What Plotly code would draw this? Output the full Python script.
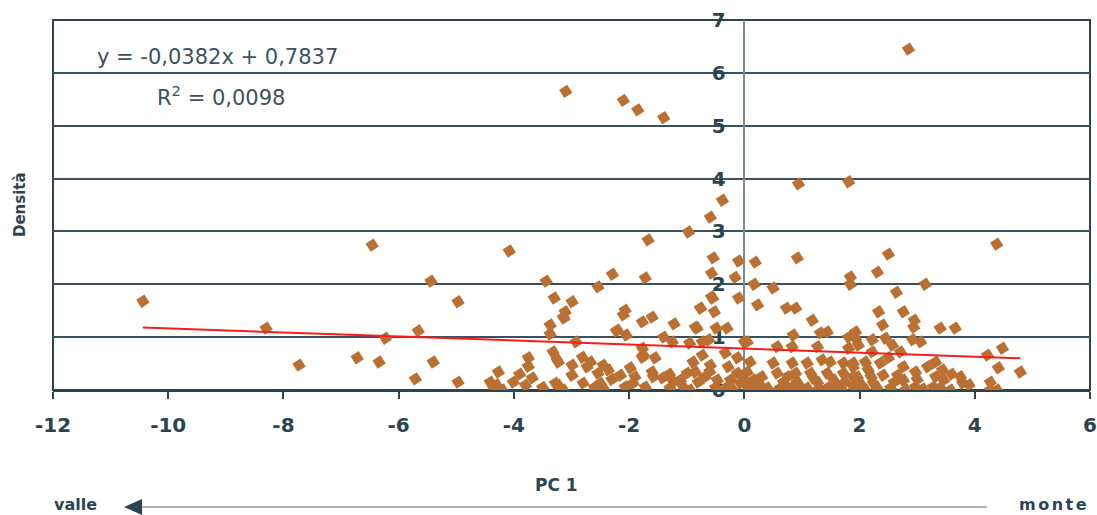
import plotly.graph_objects as go

pts = [
(2.85,6.45),(-3.1,5.65),(-2.1,5.48),(-1.85,5.3),(-1.4,5.15),(0.94,3.9),(1.81,3.94),(-0.38,3.59),(-0.59,3.27),(-0.97,2.99),
(-1.67,2.84),(-6.46,2.74),(4.38,2.76),(-4.08,2.63),(2.5,2.57),(-0.54,2.5),(-0.1,2.44),(0.19,2.42),(0.92,2.5),(2.31,2.23),
(-0.57,2.21),(-2.29,2.19),(-1.72,2.12),(-0.16,2.13),(1.84,2.14),(1.84,2.0),(-5.44,2.06),(-3.44,2.06),(0.17,2.0),(-2.54,1.95),
(3.14,2.0),(0.5,1.93),(2.64,1.85),(-3.3,1.74),(-0.1,1.74),(-0.57,1.76),(-10.44,1.68),(-4.97,1.67),(-2.99,1.67),(0.23,1.61),
(-0.76,1.55),(0.73,1.55),(0.89,1.55),(-2.07,1.51),(-0.52,1.48),(-3.11,1.48),(2.33,1.48),(2.76,1.48),(-2.1,1.42),(-1.6,1.38),
(-3.13,1.36),(1.18,1.32),(2.95,1.32),(-1.77,1.29),(-1.22,1.25),(-3.37,1.23),(2.4,1.23),(-0.85,1.19),(2.94,1.19),(-0.49,1.17),
(-0.3,1.17),(-8.3,1.17),(3.4,1.17),(3.66,1.17),(-5.66,1.12),(-2.22,1.12),(1.44,1.1),(1.93,1.1),(1.32,1.08),(-3.37,1.06),
(-2.05,1.04),(0.85,1.04),(-1.4,1.0),(1.81,1.0),(-6.23,0.98),(1.93,0.98),(2.45,0.98),(2.22,0.95),(2.92,0.95),(-0.62,0.95),
(-2.92,0.91),(-1.25,0.91),(-0.73,0.91),(0.0,0.91),(0.05,0.91),(3.06,0.91),(-0.95,0.89),(1.98,0.85),(2.57,0.85),(0.57,0.82),
(0.83,0.82),(1.27,0.82),(-1.77,0.79),(1.81,0.79),(4.48,0.79),(-3.32,0.72),(2.71,0.72),(2.22,0.72),(-0.33,0.70),(-1.75,0.66),
(-0.73,0.66),(4.22,0.66),(-6.72,0.61),(-3.75,0.61),(-1.55,0.61),(-0.12,0.61),(2.5,0.61),(-2.81,0.62),(-1.77,0.62),(1.35,0.57),
(-6.34,0.53),(-5.40,0.53),(-3.23,0.53),(-2.67,0.53),(-0.89,0.53),(0.1,0.53),(1.49,0.53),(2.1,0.53),(3.32,0.53),(0.5,0.51),
(0.83,0.51),(1.09,0.51),(1.72,0.51),(1.89,0.51),(2.36,0.51),(-7.73,0.47),(-2.99,0.47),(-2.45,0.47),(-0.59,0.47),(-3.75,0.45),
(-2.73,0.44),(-0.28,0.44),(1.89,0.44),(2.76,0.44),(3.18,0.44),(-1.98,0.42),(4.41,0.42),(-2.36,0.38),(2.15,0.38),(3.44,0.38),
(-4.27,0.34),(-1.6,0.34),(-0.85,0.34),(0.05,0.34),(2.97,0.34),(4.79,0.34),(-2.54,0.32),(-0.99,0.32),(-0.12,0.32),(0.57,0.32),
(0.89,0.32),(1.15,0.32),(1.44,0.32),(1.72,0.32),(-2.99,0.28),(-2.15,0.28),(2.41,0.28),(2.66,0.28),(-3.68,0.23),(-1.42,0.23),
(-1.58,0.25),(-0.68,0.25),(1.89,0.25),(1.96,0.25),(3.32,0.25),(3.75,0.25),(-5.71,0.21),(-1.11,0.19),(-0.47,0.19),(-0.24,0.19),
(0.16,0.19),(1.55,0.19),(2.76,0.19),(3.46,0.19),(-4.97,0.15),(-4.01,0.15),(-4.41,0.15),(-1.23,0.15),(-0.8,0.15),(0.68,0.15),
(0.92,0.15),(1.27,0.15),(1.75,0.15),(4.27,0.15),(-3.28,0.13),(-2.8,0.13),(-2.5,0.13),(-1.93,0.13),(-0.07,0.13),(2.24,0.13),
(2.01,0.13),(3.79,0.13),(-3.8,0.09),(-3.23,0.09),(0.28,0.09),(-4.36,0.06),(-2.07,0.06),(-1.72,0.06),(-1.06,0.06),(0.05,0.06),
(1.89,0.06),(2.97,0.06),(3.28,0.06),(-2.45,0.04),(-1.29,0.04),(-0.33,0.04),(0.4,0.04),(0.63,0.04),(0.8,0.04),(1.09,0.04),
(1.44,0.04),(2.54,0.04),(-4.2,0.0),(-3.14,0.0),(-0.94,0.0),(3.58,0.0),(4.27,0.0),(4.39,0.0),
(0.2,0.0),(0.6,0.0),(1.0,0.0),(1.3,0.02),(1.7,0.0),(2.1,0.0),(2.3,0.05),(2.8,0.0),(3.1,0.02),(3.4,0.05),
(0.3,0.25),(0.75,0.25),(1.2,0.22),(1.6,0.1),(2.2,0.25),(2.6,0.15),(3.0,0.2),(3.6,0.3),(3.9,0.1),(-0.5,0.05),
(-0.2,0.0),(0.0,0.2),(-0.6,0.35),(-1.3,0.3),(-1.9,0.25),(-2.3,0.2),(-2.6,0.05),(-3.5,0.05),(-3.9,0.3),(-4.3,0.1),
(-3.14,1.38),(-2.2,1.13),(-0.82,1.17),(-0.55,1.74),(-3.25,0.57),(-0.76,1.55),
]
pc1 = [p[0] for p in pts]
densita = [p[1] for p in pts]

slope = -0.0382
intercept = 0.7837
trend_x = [min(pc1), max(pc1)]
trend_y = [slope * v + intercept for v in trend_x]

x_ticks = [-12, -10, -8, -6, -4, -2, 0, 2, 4, 6]
y_ticks = [0, 1, 2, 3, 4, 5, 6, 7]

dark = "#2b4450"
font_family = "DejaVu Sans"

fig = go.Figure()
fig.add_trace(go.Scatter(
    x=pc1, y=densita, mode="markers",
    marker=dict(symbol="diamond", size=10.5, color="#B97032", angle=12,
                line=dict(width=0)),
    showlegend=False, hoverinfo="x+y"))
fig.add_trace(go.Scatter(
    x=trend_x, y=trend_y, mode="lines",
    line=dict(color="#FF1A1A", width=2), showlegend=False))

fig.update_layout(
    width=1097, height=515,
    margin=dict(l=53, r=7, t=20, b=125, autoexpand=False),
    paper_bgcolor="white", plot_bgcolor="white",
    font=dict(family=font_family, color=dark),
    xaxis=dict(
        range=[-12, 6], tickvals=x_ticks, ticktext=[str(v) for v in x_ticks],
        showgrid=False, zeroline=False, automargin=False,
        showline=True, linecolor=dark, linewidth=2,
        ticks="outside", ticklen=7, tickwidth=1.5, tickcolor=dark,
        tickfont=dict(size=20, weight="bold", color=dark, family=font_family),
        ticklabelstandoff=9,
        domain=[0, 1],
    ),
    yaxis=dict(
        range=[0, 7], tickvals=y_ticks, ticktext=[str(v) for v in y_ticks],
        anchor="free", position=12/18, automargin=False,
        showgrid=True, gridcolor="#3a525e", gridwidth=1.5,
        zeroline=False,
        showline=True, linecolor="#7a8b93", linewidth=1.5,
        ticks="outside", ticklen=14, tickcolor="rgba(0,0,0,0)",
        tickfont=dict(size=20, weight="bold", color=dark, family=font_family),
        layer="below traces",
    ),
    shapes=[
        dict(type="rect", xref="x domain", yref="y domain", x0=0, x1=1, y0=0, y1=1,
             line=dict(color=dark, width=2), layer="below"),
        dict(type="line", xref="paper", yref="paper", x0=0.0858, x1=0.9007,
             y0=-0.3162, y1=-0.3162, line=dict(color="#5b6e77", width=1.2)),
        dict(type="path", xref="paper", yref="paper",
             path="M 0.0685,-0.3162 L 0.0858,-0.2946 L 0.0858,-0.3378 Z",
             fillcolor=dark, line=dict(color=dark, width=0)),
    ],
    annotations=[
        dict(text="y = -0,0382x + 0,7837", xref="paper", yref="paper",
             x=0.0405, y=0.9, xanchor="left", yanchor="middle", showarrow=False,
             font=dict(size=21, color="#3d525c", family=font_family)),
        dict(text="R<sup>2</sup> = 0,0098", xref="paper", yref="paper",
             x=0.0984, y=0.7946, xanchor="left", yanchor="middle", showarrow=False,
             font=dict(size=21, color="#3d525c", family=font_family)),
        dict(text="Densità", xref="paper", yref="paper", x=-0.0318, y=0.5,
             xanchor="center", yanchor="middle", textangle=-90, showarrow=False,
             font=dict(size=15, weight="bold", color=dark, family=font_family)),
        dict(text="PC 1", xref="paper", yref="paper", x=0.486, y=-0.257,
             xanchor="center", yanchor="middle", showarrow=False,
             font=dict(size=17, weight="bold", color=dark, family=font_family)),
        dict(text="valle", xref="paper", yref="paper", x=0.0, y=-0.309,
             xanchor="left", yanchor="middle", showarrow=False, borderpad=0,
             font=dict(size=16, weight="bold", color=dark, family=font_family)),
        dict(text='<span style="letter-spacing:2.5px">monte</span>', xref="paper", yref="paper",
             x=1.0, y=-0.309, xanchor="right", yanchor="middle", showarrow=False, borderpad=0,
             font=dict(size=16, weight="bold", color=dark, family=font_family)),
    ],
)

fig.write_html("out.html")
